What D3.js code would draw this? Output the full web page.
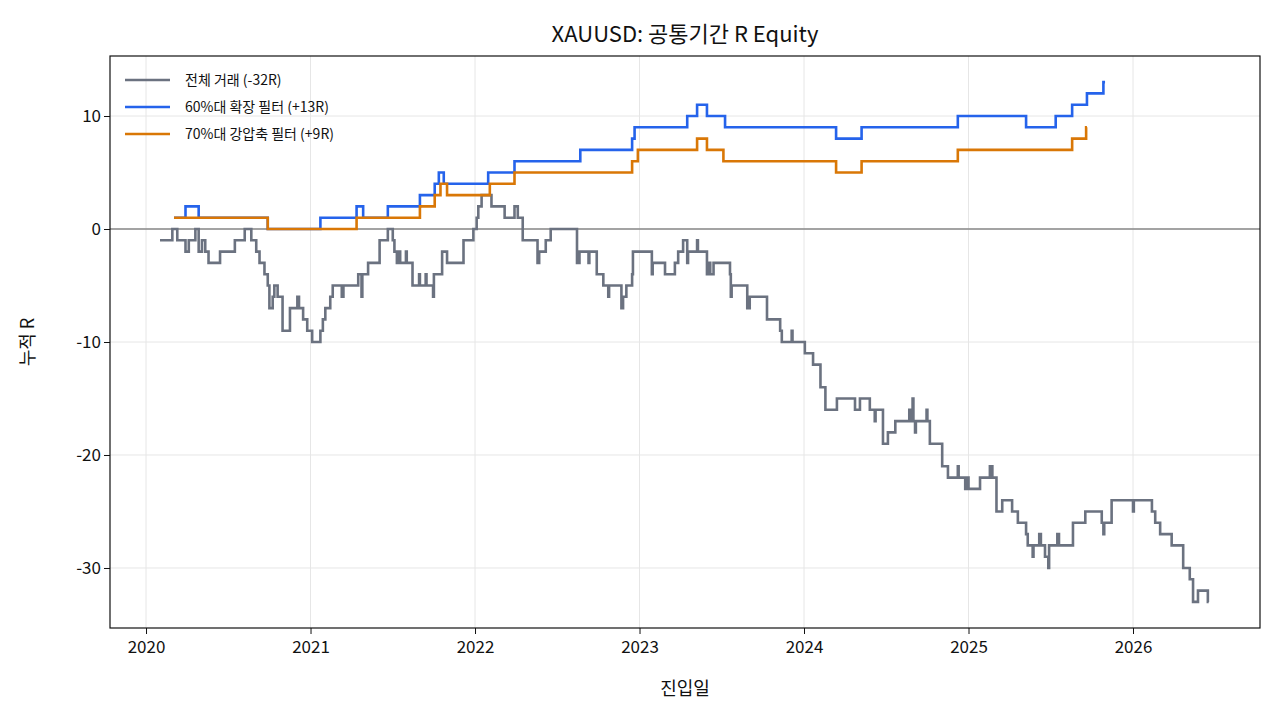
<!DOCTYPE html>
<html><head><meta charset="utf-8">
<script src="https://cdn.jsdelivr.net/npm/d3@7"></script>
<style>
body{margin:0;background:#fff;font-family:"Noto Sans CJK KR","Noto Sans",sans-serif;}
</style></head>
<body><div id="chart"></div>
<script>
// step points: [decimal year, cumulative R]
const allTrades = [
 [2020.085,-1],[2020.16,0],[2020.19,-1],[2020.24,-2],[2020.26,-1],[2020.30,0],[2020.32,-2],[2020.34,-1],
 [2020.36,-2],[2020.38,-3],[2020.45,-2],[2020.54,-1],[2020.60,0],[2020.64,-1],[2020.67,-2],[2020.69,-3],
 [2020.72,-4],[2020.74,-5],[2020.75,-7],[2020.77,-6],[2020.78,-5],[2020.80,-6],[2020.83,-9],[2020.875,-7],
 [2020.92,-6],[2020.93,-7],[2020.955,-8],[2020.98,-9],[2021.01,-10],[2021.06,-9],[2021.075,-8],[2021.09,-7],
 [2021.12,-6],[2021.135,-5],[2021.19,-6],[2021.20,-5],[2021.29,-4],[2021.31,-6],[2021.315,-4],[2021.35,-3],
 [2021.42,-1],[2021.47,0],[2021.50,-1],[2021.51,-2],[2021.525,-3],[2021.54,-2],[2021.545,-3],[2021.58,-2],
 [2021.585,-3],[2021.62,-5],[2021.66,-4],[2021.665,-5],[2021.70,-4],[2021.705,-5],[2021.745,-6],[2021.75,-4],
 [2021.80,-2],[2021.83,-3],[2021.91,-3],[2021.93,-1],[2021.99,0],[2022.01,1],[2022.02,2],[2022.04,3],
 [2022.10,2],[2022.18,1],[2022.24,2],[2022.26,1],[2022.29,-1],[2022.38,-3],[2022.39,-2],[2022.41,-2],
 [2022.43,-1],[2022.46,0],[2022.62,-3],[2022.635,-2],[2022.69,-3],[2022.695,-2],[2022.74,-4],[2022.78,-5],
 [2022.81,-6],[2022.815,-5],[2022.87,-5],[2022.89,-7],[2022.90,-6],[2022.92,-5],[2022.955,-4],[2022.96,-2],
 [2023.075,-4],[2023.08,-3],[2023.155,-4],[2023.215,-3],[2023.235,-2],[2023.265,-1],[2023.29,-3],[2023.295,-2],
 [2023.35,-1],[2023.355,-2],[2023.41,-4],[2023.42,-3],[2023.43,-4],[2023.45,-3],[2023.55,-4],[2023.555,-6],
 [2023.56,-5],[2023.655,-7],[2023.67,-6],[2023.775,-8],[2023.855,-9],[2023.865,-10],[2023.925,-9],[2023.93,-10],
 [2024.005,-11],[2024.055,-12],[2024.10,-14],[2024.13,-16],[2024.20,-15],[2024.31,-16],[2024.34,-15],[2024.40,-16],
 [2024.43,-17],[2024.435,-16],[2024.48,-19],[2024.51,-18],[2024.555,-17],[2024.64,-16],[2024.645,-17],[2024.66,-15],
 [2024.665,-17],[2024.675,-18],[2024.68,-17],[2024.745,-16],[2024.75,-17],[2024.765,-19],[2024.84,-21],[2024.875,-22],
 [2024.935,-21],[2024.94,-22],[2024.98,-23],[2024.985,-22],[2025.0,-23],[2025.07,-22],[2025.13,-21],[2025.145,-22],
 [2025.17,-25],[2025.205,-24],[2025.265,-25],[2025.30,-26],[2025.35,-27],[2025.36,-28],[2025.39,-29],[2025.395,-28],
 [2025.43,-27],[2025.44,-28],[2025.465,-29],[2025.485,-30],[2025.49,-28],[2025.54,-27],[2025.55,-28],[2025.635,-26],
 [2025.71,-25],[2025.81,-26],[2025.82,-27],[2025.825,-26],[2025.87,-24],[2026.0,-25],[2026.005,-24],[2026.115,-25],
 [2026.135,-26],[2026.165,-27],[2026.235,-28],[2026.305,-30],[2026.345,-31],[2026.365,-33],[2026.395,-32],[2026.455,-33],
 [2026.46,-33]
];
const filter60 = [
 [2020.17,1],[2020.24,2],[2020.32,1],[2020.74,0],[2021.06,1],[2021.28,2],[2021.32,1],[2021.47,2],[2021.665,3],
 [2021.755,4],[2021.78,5],[2021.81,4],[2022.08,5],[2022.24,6],[2022.64,7],[2022.955,8],[2022.97,9],[2023.29,10],
 [2023.35,11],[2023.41,10],[2023.52,9],[2024.195,8],[2024.35,9],[2024.935,10],[2025.35,9],[2025.53,10],
 [2025.63,11],[2025.72,12],[2025.82,13],[2025.83,13]
];
const filter70 = [
 [2020.17,1],[2020.74,0],[2021.28,1],[2021.665,2],[2021.755,3],[2021.79,4],[2021.83,3],[2022.09,4],[2022.24,5],
 [2022.955,6],[2022.99,7],[2023.35,8],[2023.41,7],[2023.51,6],[2024.195,5],[2024.35,6],[2024.935,7],
 [2025.63,8],[2025.715,9],[2025.72,9]
];
const seriesNames = ['전체 거래 (-32R)', '60%대 확장 필터 (+13R)', '70%대 강압축 필터 (+9R)'];
const seriesColors = ['#6b7280', '#2563eb', '#d97706'];
const yTicks = [-30, -20, -10, 0, 10];
const xTicks = [2020, 2021, 2022, 2023, 2024, 2025, 2026];

const W = 1278, H = 721;
const m = { top: 56, right: 18, bottom: 93, left: 110 };
const w = W - m.left - m.right, h = H - m.top - m.bottom;

const svg = d3.select('#chart').append('svg').attr('width', W).attr('height', H);
const g = svg.append('g').attr('transform', `translate(${m.left},${m.top})`);

const x = d3.scaleLinear().domain([2019.781, 2026.772]).range([0, w]);
const y = d3.scaleLinear().domain([-35.31, 15.31]).range([h, 0]);

// grid
g.append('g').selectAll('line').data(xTicks).join('line')
    .attr('x1', d => x(d)).attr('x2', d => x(d)).attr('y1', 0).attr('y2', h)
    .attr('stroke', '#e6e6e6').attr('stroke-width', 1);
g.append('g').selectAll('line').data(yTicks).join('line')
    .attr('y1', d => y(d)).attr('y2', d => y(d)).attr('x1', 0).attr('x2', w)
    .attr('stroke', '#e6e6e6').attr('stroke-width', 1);
g.append('line').attr('x1', 0).attr('x2', w).attr('y1', y(0)).attr('y2', y(0))
    .attr('stroke', '#888').attr('stroke-width', 1.3);

// axes
const xa = g.append('g').attr('transform', `translate(0,${h})`)
    .call(d3.axisBottom(x).tickValues(xTicks).tickFormat(d3.format('d')).tickSizeOuter(0));
const ya = g.append('g')
    .call(d3.axisLeft(y).tickValues(yTicks).tickFormat(d => String(d)).tickSizeOuter(0));
[xa, ya].forEach(a => {
    a.selectAll('text').style('font-size', '17px').attr('fill', '#111')
        .style('font-family', '"Noto Sans CJK KR",sans-serif');
    a.select('.domain').remove();
    a.selectAll('line').attr('stroke', '#111');
});
xa.selectAll('text').attr('dy', '0.95em');
g.append('rect').attr('width', w).attr('height', h).attr('fill', 'none').attr('stroke', '#111').attr('stroke-width', 1.2);

// lines
const line = d3.line().x(d => x(d[0])).y(d => y(d[1])).curve(d3.curveStepAfter);
[allTrades, filter60, filter70].forEach((data, i) => {
    g.append('path').datum(data).attr('d', line).attr('fill', 'none')
        .attr('stroke', seriesColors[i]).attr('stroke-width', 2.6);
});

// legend
const lg = g.append('g').attr('transform', 'translate(15,24)');
seriesNames.forEach((name, i) => {
    const row = lg.append('g').attr('transform', `translate(0,${i * 27})`);
    row.append('line').attr('x1', 0).attr('x2', 45).attr('stroke', seriesColors[i]).attr('stroke-width', 2.6);
    row.append('text').attr('x', 60).attr('y', 5).style('font-size', '14px').attr('fill', '#111').text(name);
});

// titles
svg.append('text').attr('x', m.left + w / 2).attr('y', 42).attr('text-anchor', 'middle')
    .style('font-size', '22px').attr('fill', '#111').text('XAUUSD: 공통기간 R Equity');
svg.append('text').attr('x', m.left + w / 2).attr('y', 695).attr('text-anchor', 'middle')
    .style('font-size', '18px').attr('fill', '#111').text('진입일');
svg.append('text').attr('transform', `translate(34,${m.top + h / 2}) rotate(-90)`).attr('text-anchor', 'middle')
    .style('font-size', '18px').attr('fill', '#111').text('누적 R');
</script></body></html>
